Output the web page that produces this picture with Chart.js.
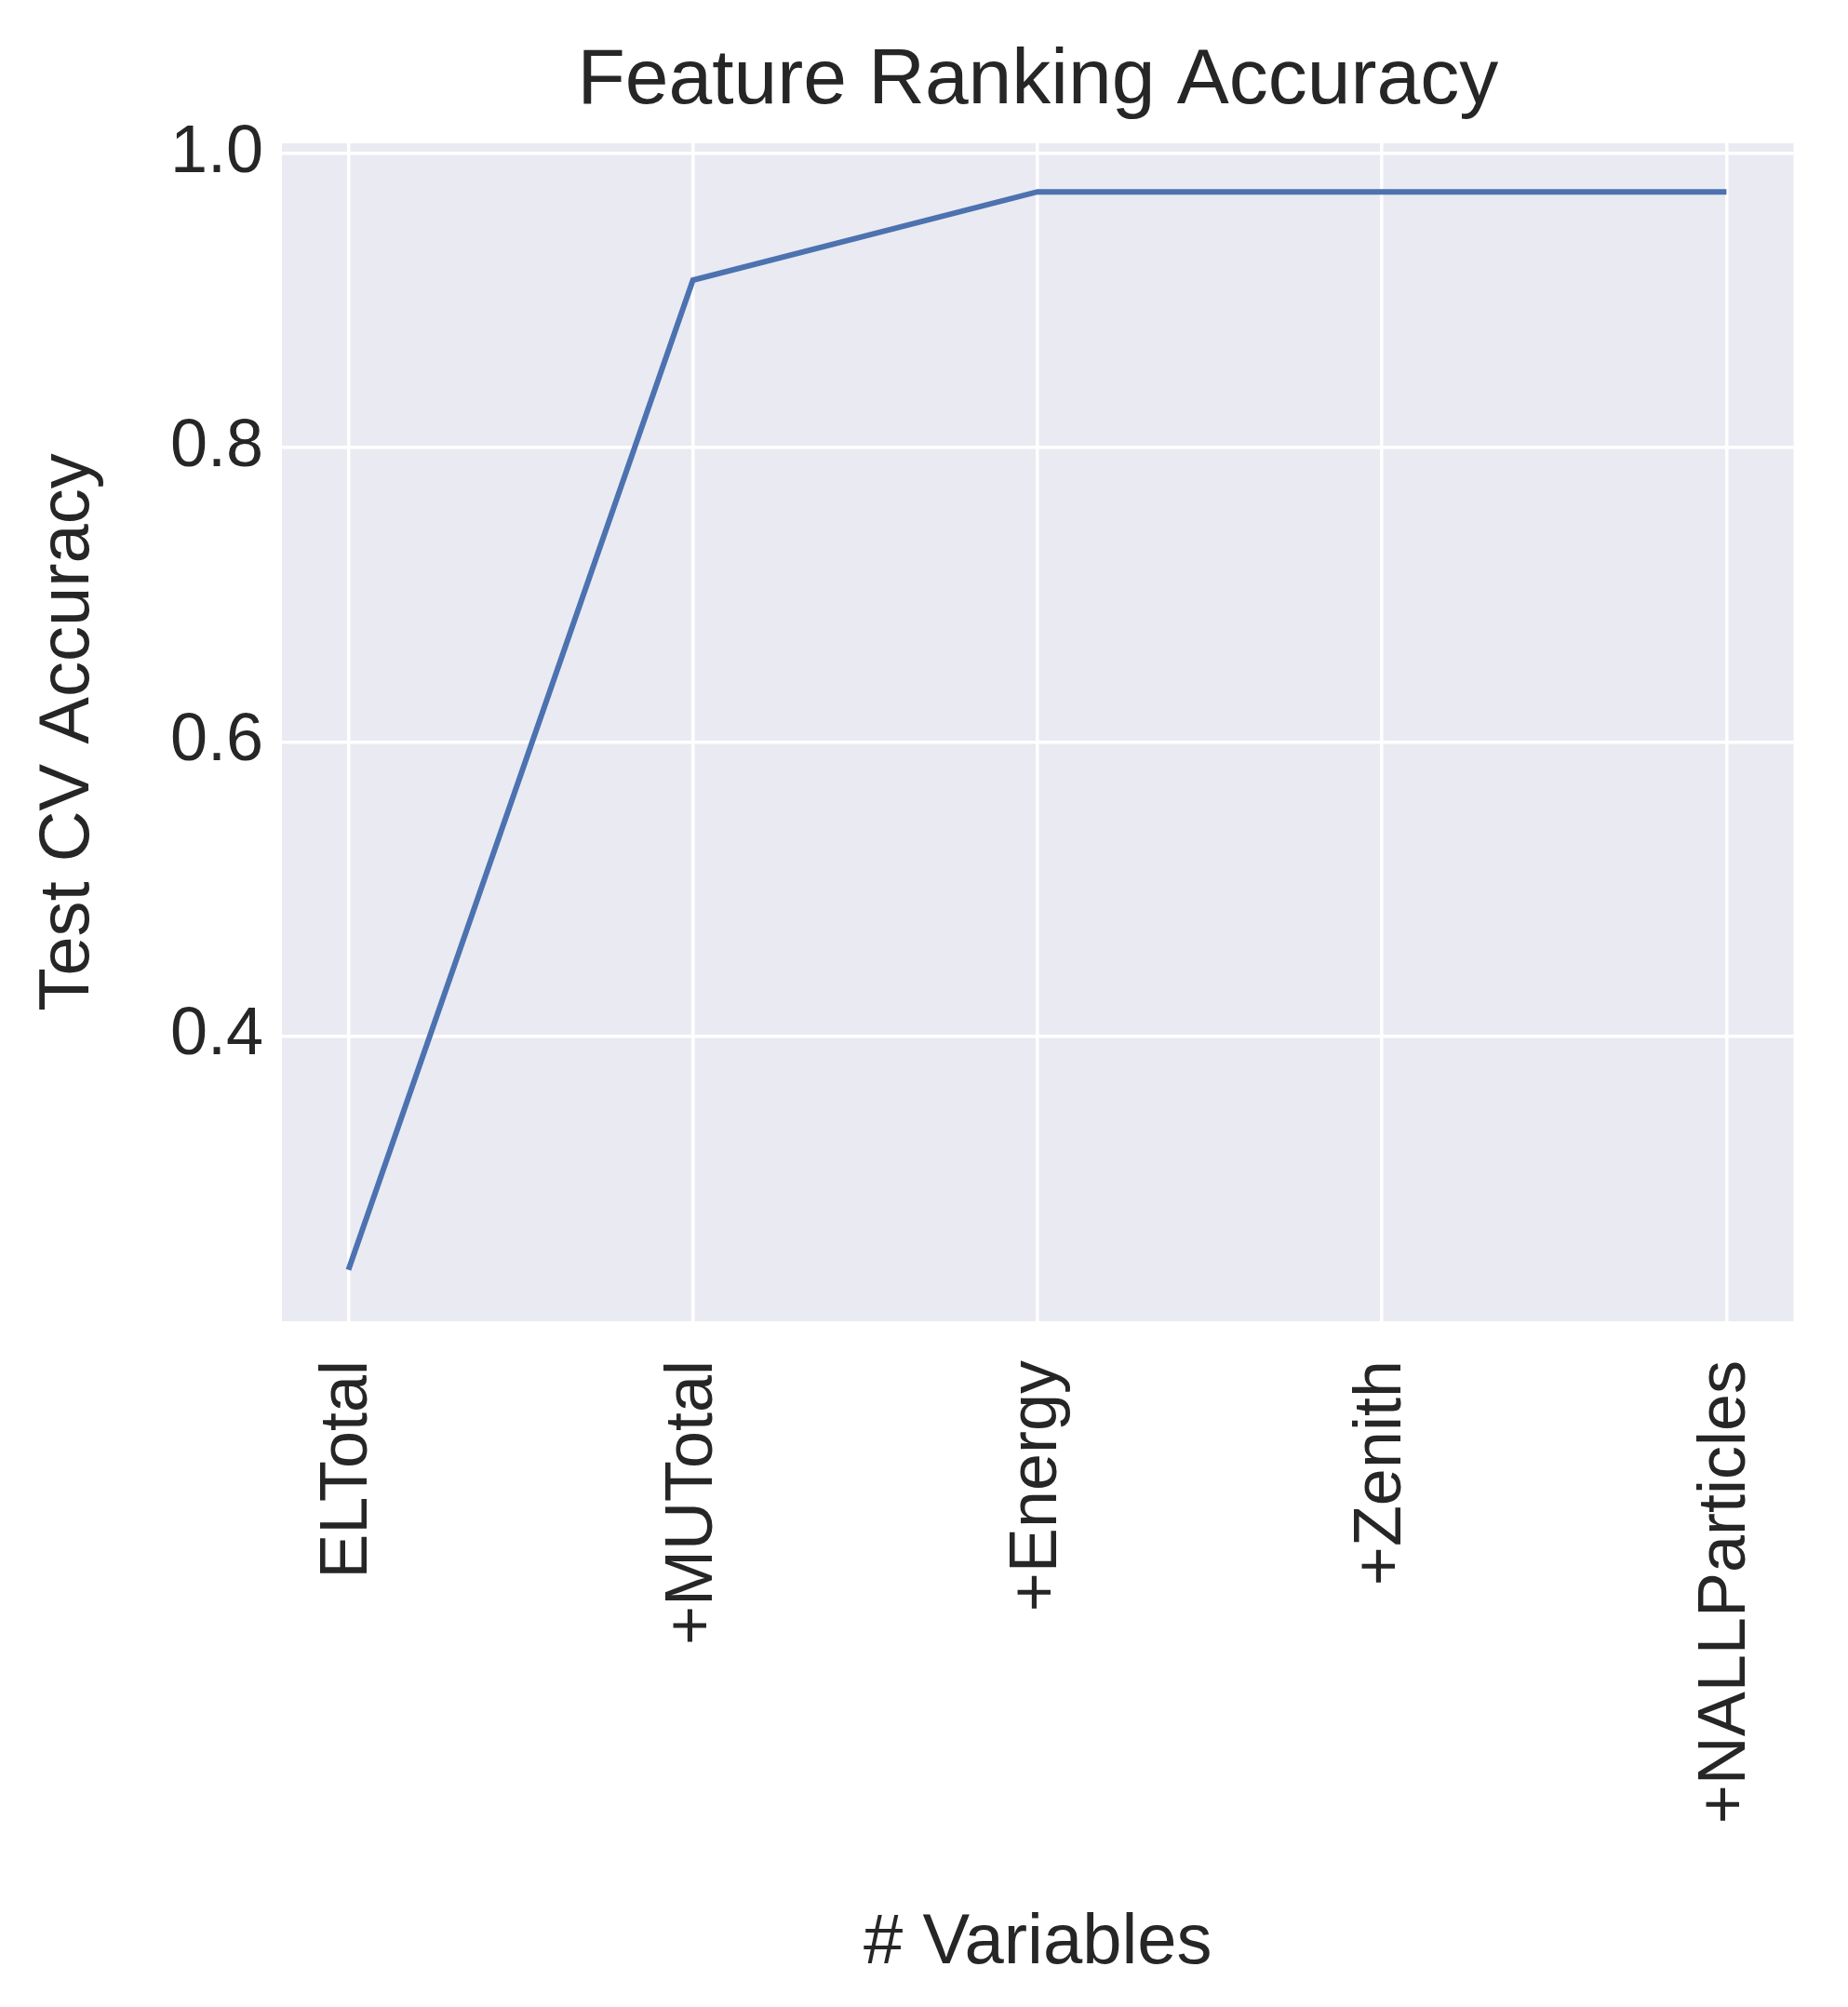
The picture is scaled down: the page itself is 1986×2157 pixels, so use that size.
<!DOCTYPE html>
<html>
<head>
<meta charset="utf-8">
<script src="https://cdn.jsdelivr.net/npm/chart.js@4"></script>
<style>
  html, body { margin: 0; padding: 0; background: #fff; }
  #wrap { position: relative; width: 1986px; height: 2157px; }
</style>
</head>
<body>
<div id="wrap"><canvas id="chart"></canvas></div>
<script>
const categories = ["ELTotal", "+MUTotal", "+Energy", "+Zenith", "+NALLParticles"];
const accuracy = [0.241, 0.914, 0.974, 0.974, 0.974];
const yTicks = [0.4, 0.6, 0.8, 1.0];
const chartTitle = "Feature Ranking Accuracy";

const textColor = "#262626";
const fontFamily = "Liberation Sans, Arial, sans-serif";

// shaded plot background and a title centred over the plot area
const plotDecor = {
  id: "plotDecor",
  beforeDraw(chart) {
    const { ctx, chartArea: a } = chart;
    ctx.save();
    ctx.fillStyle = "#EAEAF2";
    ctx.fillRect(a.left, a.top, a.right - a.left, a.bottom - a.top);
    ctx.restore();
  },
  afterDraw(chart) {
    const { ctx, chartArea: a } = chart;
    ctx.save();
    ctx.fillStyle = textColor;
    ctx.font = "84px " + fontFamily;
    ctx.textAlign = "center";
    ctx.textBaseline = "middle";
    ctx.fillText(chartTitle, (a.left + a.right) / 2, 88);
    ctx.restore();
  },
};

new Chart(document.getElementById("chart").getContext("2d"), {
  type: "line",
  data: {
    datasets: [
      {
        data: accuracy.map((v, i) => ({ x: i, y: v })),
        borderColor: "#4C72B0",
        borderWidth: 6,
        pointRadius: 0,
        tension: 0,
      },
    ],
  },
  options: {
    responsive: true,
    maintainAspectRatio: false,
    animation: false,
    layout: { padding: { left: 0, right: 50, top: 154, bottom: 0 } },
    plugins: {
      legend: { display: false },
      tooltip: { enabled: false },
      title: { display: false },
    },
    scales: {
      x: {
        type: "linear",
        min: -0.193,
        max: 4.195,
        afterBuildTicks: (s) => { s.ticks = categories.map((c, i) => ({ value: i })); },
        afterFit: (s) => { s.height = 737; },
        ticks: {
          color: textColor,
          font: { family: fontFamily, size: 72 },
          minRotation: 90,
          maxRotation: 90,
          padding: 42,
          autoSkip: false,
          callback: (v) => categories[v],
        },
        grid: { color: "#ffffff", lineWidth: 3.5, drawTicks: false },
        border: { display: false },
        title: {
          display: true,
          text: "# Variables",
          color: textColor,
          font: { family: fontFamily, size: 76 },
          padding: { top: 10, bottom: 22 },
        },
      },
      y: {
        min: 0.206,
        max: 1.007,
        afterBuildTicks: (s) => { s.ticks = yTicks.map((v) => ({ value: v })); },
        afterFit: (s) => { s.width = 303; },
        ticks: {
          color: textColor,
          font: { family: fontFamily, size: 72 },
          padding: 20,
          callback: (v) => v.toFixed(1),
        },
        grid: { color: "#ffffff", lineWidth: 3.5, drawTicks: false },
        border: { display: false },
        title: {
          display: true,
          text: "Test CV Accuracy",
          color: textColor,
          font: { family: fontFamily, size: 76 },
          padding: { top: 28, bottom: 10 },
        },
      },
    },
  },
  plugins: [plotDecor],
});
</script>
</body>
</html>
